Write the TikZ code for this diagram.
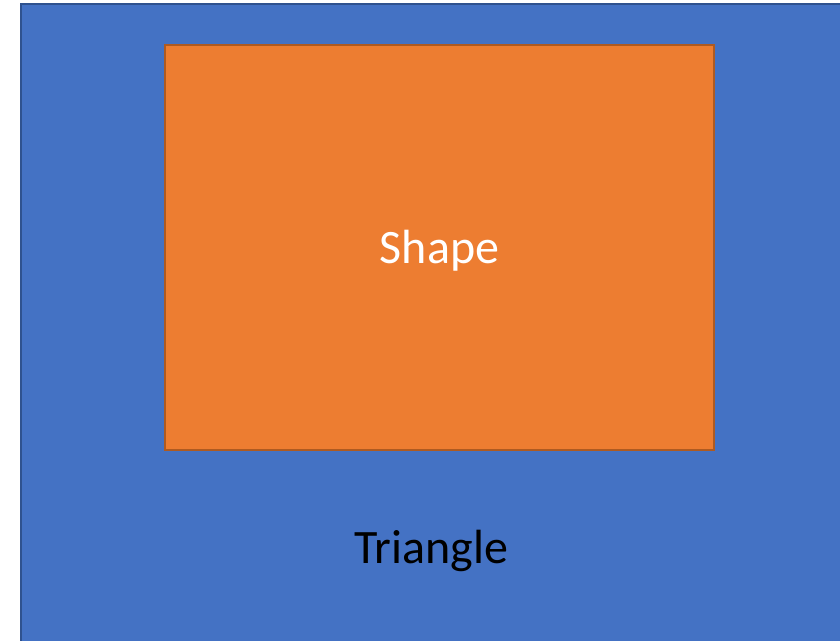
\documentclass[tikz,border=0pt]{standalone}
\usepackage{fontspec}
\setmainfont{Carlito}
\usepackage{tikz}
\usetikzlibrary{positioning}
\definecolor{panelblue}{RGB}{68,114,196}
\definecolor{paneledge}{RGB}{47,82,143}
\definecolor{shapeorange}{RGB}{237,125,49}
\definecolor{shapeedge}{RGB}{174,90,33}
\tikzset{
  panel/.style={fill=panelblue,draw=paneledge,line width=2pt},
  innerbox/.style={rectangle,fill=shapeorange,draw=shapeedge,line width=2pt,
    minimum width=549pt,minimum height=405pt,inner sep=0pt,outer sep=0pt},
  bigtext/.style={font=\fontsize{48}{54}\selectfont}
}

\begin{document}
\begin{tikzpicture}[x=1pt,y=-1pt]

  \useasboundingbox (0,0) rectangle (840,640);

  \fill[white] (0,0) rectangle (840,640);
  \draw[panel] (21,4) rectangle (845,645);

  \node[innerbox] (shape) at (439.5,247.5) {};
  \node[bigtext,text=white] (shapelabel) at ([yshift=-3pt]shape.center) {Shape};
  \node[bigtext,text=black] (triangle) at (431,551) {Triangle};

\end{tikzpicture}
\end{document}
